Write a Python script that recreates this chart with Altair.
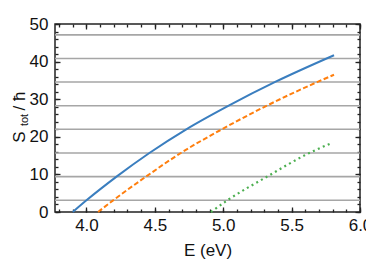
import altair as alt
import pandas as pd

# Data
E_blue = [3.90, 4.00, 4.22, 4.46, 4.73, 5.04, 5.38, 5.81]
S_blue = [0.0, 3.1, 9.4, 15.7, 22.0, 28.3, 34.6, 41.7]

E_orange = [4.085, 4.195, 4.435, 4.69, 4.99, 5.32, 5.69, 5.81]
S_orange = [0.0, 3.1, 9.4, 15.7, 22.0, 28.3, 34.6, 36.5]

E_green = [4.91, 5.03, 5.32, 5.63, 5.79]
S_green = [0.0, 3.1, 9.4, 15.7, 18.3]

grid_levels = [3.14, 9.42, 15.71, 21.99, 28.27, 34.56, 40.84, 47.12]

x_major = [4.0, 4.5, 5.0, 5.5, 6.0]
x_minor = [round(3.8 + 0.1 * i, 1) for i in range(23)]
y_major = [0, 10, 20, 30, 40, 50]
y_minor = list(range(0, 51, 2))

FONT = "Liberation Sans"

blue_df = pd.DataFrame({"E": E_blue, "S": S_blue})
orange_df = pd.DataFrame({"E": E_orange, "S": S_orange})
green_df = pd.DataFrame({"E": E_green, "S": S_green})
grid_df = pd.DataFrame({"S": grid_levels})

xs = alt.Scale(domain=[3.77, 6.0], nice=False, zero=False)
ys = alt.Scale(domain=[0, 50], nice=False, zero=False)

MAJ, MIN = 5, 3


def axis(orient, values, size, labels=False, title=None, fmt=None, pad=5):
    kw = dict(
        orient=orient, values=values, tickSize=size, offset=-size,
        domain=False, grid=False, labels=labels, ticks=True,
        tickColor="#222222", tickWidth=1.3,
    )
    if labels:
        kw.update(labelFont=FONT, labelFontSize=17, labelColor="#111111",
                  labelPadding=pad, format=fmt, labelFlush=False,
                  labelOverlap=False)
    if title:
        kw.update(title=title, titleFont=FONT, titleFontSize=17,
                  titleFontWeight="normal", titleColor="#111111",
                  titlePadding=9)
    else:
        kw.update(title=None)
    return alt.Axis(**kw)


grid = alt.Chart(grid_df).mark_rule(color="#a6a6a6", strokeWidth=1.6).encode(
    y=alt.Y("S:Q", scale=ys, axis=axis("left", y_major, MAJ, True, fmt="d", pad=7))
)

blue = alt.Chart(blue_df).mark_line(
    color="#3a7ebf", strokeWidth=2, interpolate="monotone"
).encode(
    x=alt.X("E:Q", scale=xs, axis=axis("bottom", x_major, MAJ, True, title="E (eV)", fmt=".1f", pad=5)),
    y=alt.Y("S:Q", scale=ys, axis=axis("left", y_minor, MIN)),
)

orange = alt.Chart(orange_df).mark_line(
    color="#ff7f0e", strokeWidth=2, strokeDash=[5, 2.5], interpolate="monotone"
).encode(
    x=alt.X("E:Q", scale=xs, axis=axis("bottom", x_minor, MIN)),
    y=alt.Y("S:Q", scale=ys, axis=axis("right", y_major, MAJ)),
)

green = alt.Chart(green_df).mark_line(
    color="#4caf50", strokeWidth=2.2, strokeDash=[2, 3.4], interpolate="monotone"
).encode(
    x=alt.X("E:Q", scale=xs, axis=axis("top", x_major, MAJ)),
    y=alt.Y("S:Q", scale=ys, axis=axis("right", y_minor, MIN)),
)

top_minor = alt.Chart(blue_df).mark_point(opacity=0).encode(
    x=alt.X("E:Q", scale=xs, axis=axis("top", x_minor, MIN)),
    y=alt.Y("S:Q", scale=ys, axis=None),
)


def ylabel(txt, x, y, size, style="normal"):
    return alt.Chart(pd.DataFrame({"t": [txt]})).mark_text(
        angle=270, align="center", baseline="middle", font=FONT,
        fontSize=size, color="#111111", fontStyle=style,
    ).encode(x=alt.value(x), y=alt.value(y), text="t:N")


t1 = ylabel("S", -35, 113, 17)
t2 = ylabel("tot", -30, 96, 11)
t3 = ylabel("/ ħ", -35, 77, 17)

chart = alt.layer(grid, blue, orange, green, top_minor, t1, t2, t3).resolve_axis(
    x="independent", y="independent"
).properties(
    width=305, height=188,
    autosize=alt.AutoSizeParams(type="none"),
    padding={"left": 47, "top": 16, "right": 6, "bottom": 50},
).configure_view(stroke="#222222", strokeWidth=1.5)

chart.save("out.html", embed_options={"renderer": "svg", "actions": False})
